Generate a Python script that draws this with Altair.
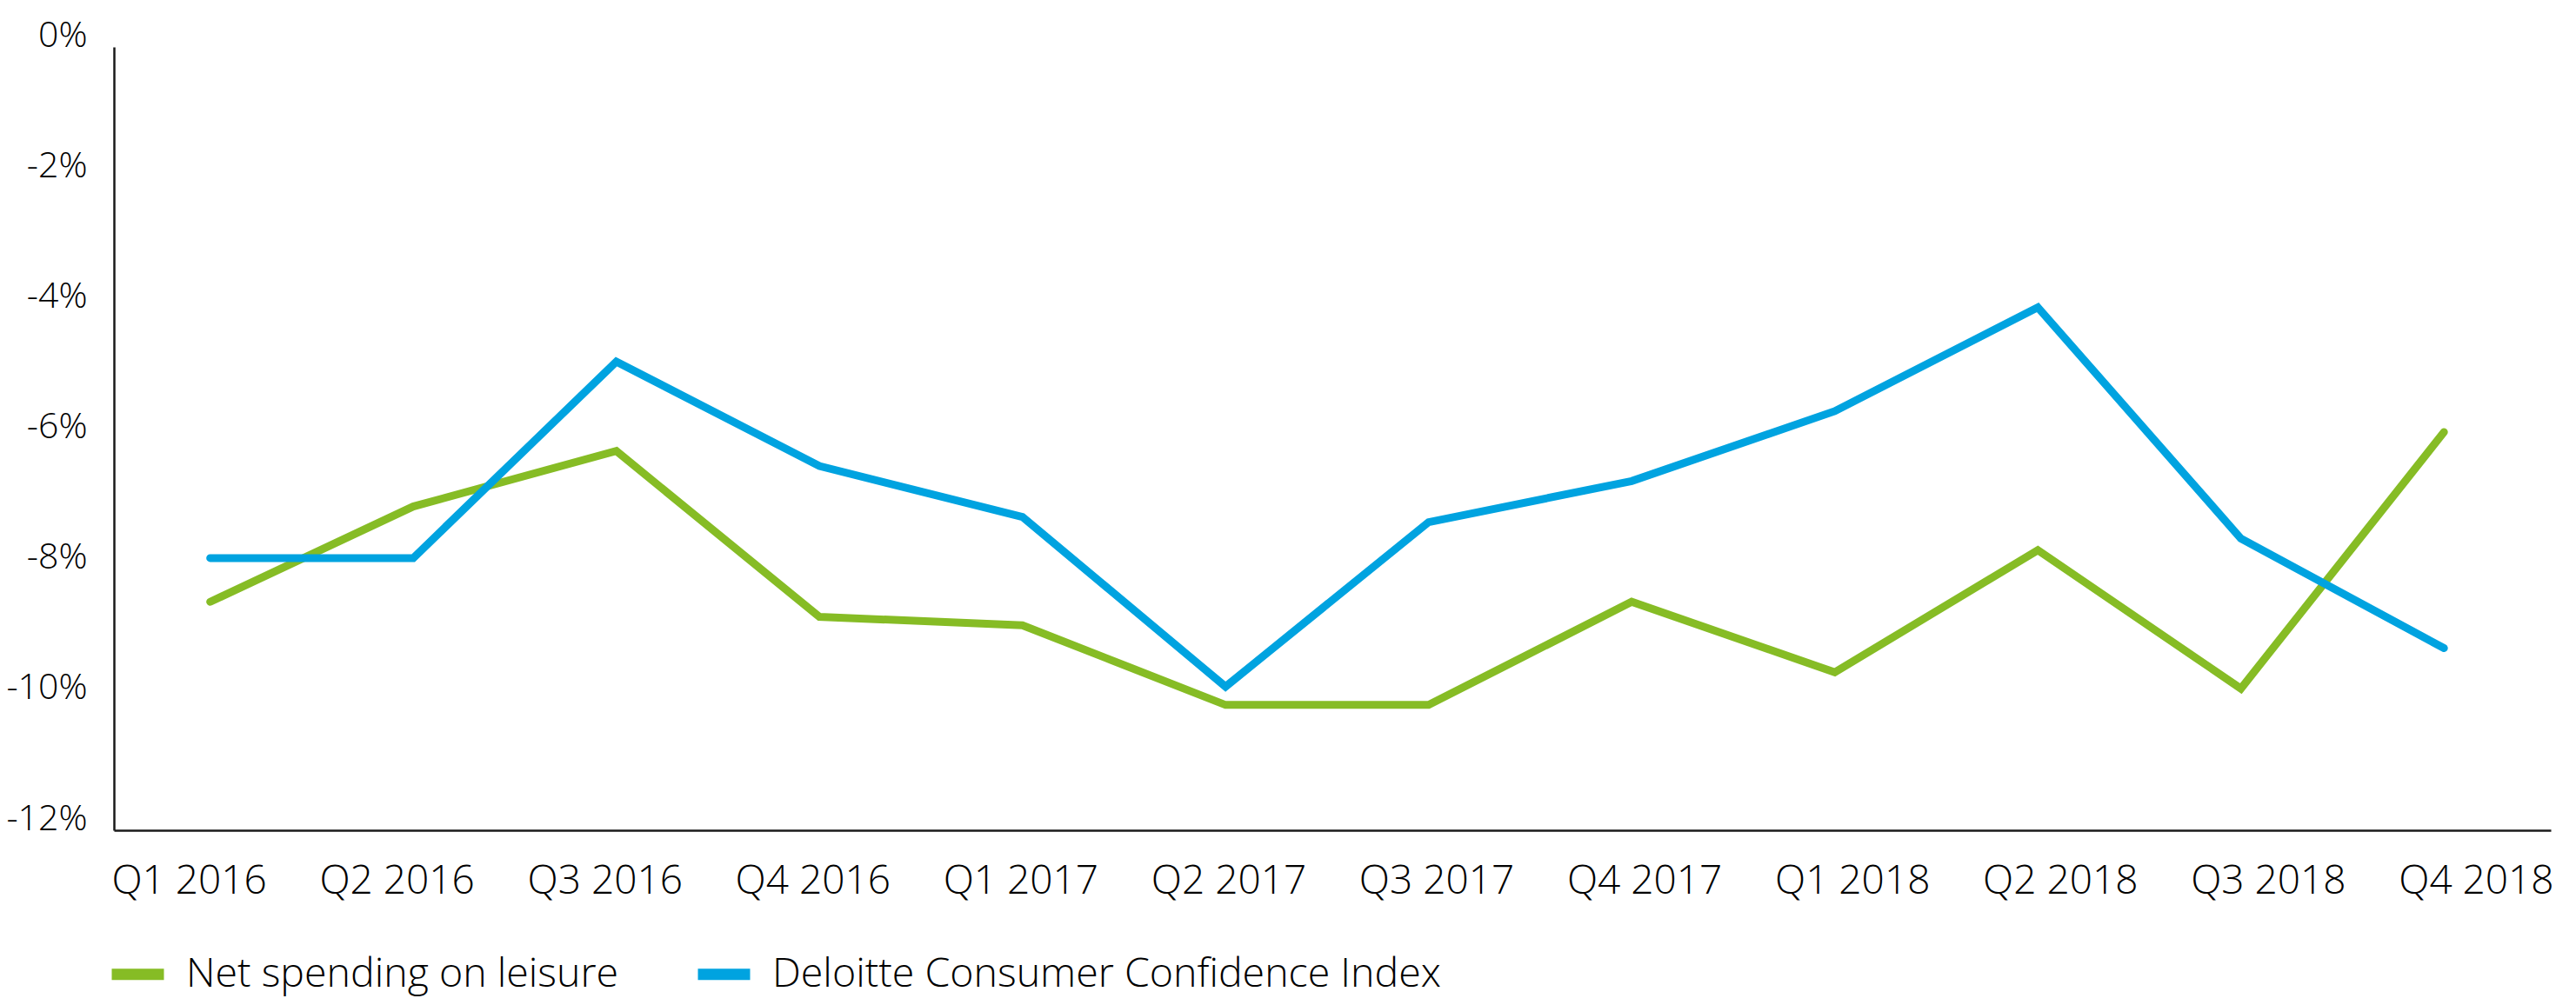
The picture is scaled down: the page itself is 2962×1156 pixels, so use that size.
import altair as alt
import pandas as pd

quarters = ["Q1 2016", "Q2 2016", "Q3 2016", "Q4 2016",
            "Q1 2017", "Q2 2017", "Q3 2017", "Q4 2017",
            "Q1 2018", "Q2 2018", "Q3 2018", "Q4 2018"]
leisure = [-8.5, -7.04, -6.19, -8.73, -8.86, -10.08, -10.08, -8.5, -9.58, -7.71, -9.83, -5.9]
confidence = [-7.83, -7.83, -4.82, -6.42, -7.2, -9.8, -7.28, -6.65, -5.58, -3.99, -7.53, -9.21]
series_names = ["Net spending on leisure", "Deloitte Consumer Confidence Index"]
series_colors = ["#86BC25", "#00A3E0"]
y_ticks = [0, -2, -4, -6, -8, -10, -12]

rows = []
for name, vals in zip(series_names, [leisure, confidence]):
    for q, v in zip(quarters, vals):
        rows.append({"quarter": q, "value": v, "series": name})
df = pd.DataFrame(rows)

FONT = "Open Sans"

lines = alt.Chart(df).mark_line(strokeWidth=9, strokeCap="round", strokeJoin="miter").encode(
    x=alt.X("quarter:N", sort=quarters,
            scale=alt.Scale(type="point", padding=0.5, align=0.474), axis=None),
    y=alt.Y("value:Q",
            scale=alt.Scale(domain=[-12, 0], nice=False, zero=False),
            axis=alt.Axis(values=y_ticks, labelExpr="datum.value + '%'", title=None,
                          ticks=False, grid=False, domainColor="#1a1a1a", domainWidth=2.5,
                          labelFont=FONT, labelFontWeight=300, labelFontSize=41,
                          labelColor="#000000", labelPadding=31, labelOffset=-13)),
    color=alt.Color("series:N",
                    scale=alt.Scale(domain=series_names, range=series_colors),
                    legend=alt.Legend(title=None, orient="none", legendX=-9, legendY=1030,
                                      direction="horizontal", symbolType="stroke",
                                      symbolStrokeWidth=13, symbolSize=3600,
                                      labelFont=FONT, labelFontWeight=300, labelFontSize=46.5,
                                      labelColor="#000000", labelOffset=19, labelLimit=2000,
                                      columnPadding=64, padding=0)),
)

axis_layer = alt.Chart(pd.DataFrame({"quarter": quarters})).mark_point(opacity=0).encode(
    x=alt.X("quarter:N", sort=quarters,
            scale=alt.Scale(type="point", padding=0.36),
            axis=alt.Axis(orient="bottom", title=None, ticks=False, grid=False, labelAngle=0,
                          domainColor="#1a1a1a", domainWidth=2.5,
                          labelFont=FONT, labelFontWeight=300, labelFontSize=46,
                          labelColor="#000000", labelPadding=36)),
)

chart = alt.layer(axis_layer, lines).resolve_scale(x="independent").properties(
    width=2802, height=901,
    autosize=alt.AutoSizeParams(type="none"),
    padding={"left": 123, "top": 46, "right": 20, "bottom": 198},
).configure_view(stroke=None)

chart.save("out.html", embed_options={"renderer": "svg", "actions": False})
